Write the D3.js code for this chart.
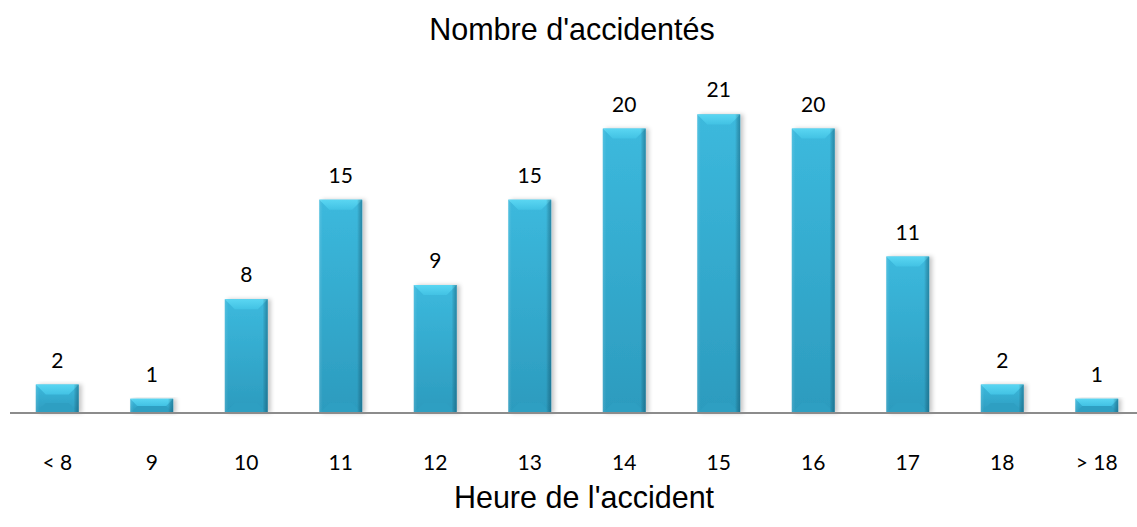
<!DOCTYPE html>
<html lang="fr">
<head>
    <meta charset="UTF-8">
    <title>Nombre d'accidentés</title>
    <script src="https://d3js.org/d3.v7.min.js" charset="utf-8"></script>
    <style>
        body {
            margin: 0;
            background: white;
        }
        .title {
            font-family: "Liberation Sans", Arial, sans-serif;
            font-size: 30.5px;
            fill: #000;
        }
        .lbl {
            font-family: Lato, "Open Sans", sans-serif;
            font-size: 21px;
            fill: #000;
        }
    </style>
</head>
<body>
    <script>
        // chart data
        var heures = ["< 8", "9", "10", "11", "12", "13", "14", "15", "16", "17", "18", "> 18"];
        var accidentes = [2, 1, 8, 15, 9, 15, 20, 21, 20, 11, 2, 1];

        var width = 1137;
        var height = 527;
        var baseY = 413;

        var svg = d3.select("body")
                    .append("svg")
                    .attr("width", width)
                    .attr("height", height);

        var x = d3.scaleBand()
                .domain(heures)
                .range([10, 1144])
                .paddingInner(0.545)
                .paddingOuter(0.2725);

        var y = d3.scaleLinear()
                .domain([0, 25])
                .range([baseY, baseY - 25 * 14.22]);

        // gradients for the bevelled bars
        var defs = svg.append("defs");
        var bodyGrad = defs.append("linearGradient").attr("id", "barBody")
                .attr("x1", 0).attr("x2", 0).attr("y1", 0).attr("y2", 1);
        bodyGrad.append("stop").attr("offset", "0%").attr("stop-color", "#3cb9dd");
        bodyGrad.append("stop").attr("offset", "100%").attr("stop-color", "#2c9bbe");

        var sideGrad = defs.append("linearGradient").attr("id", "barSide")
                .attr("x1", 0).attr("x2", 1).attr("y1", 0).attr("y2", 0);
        sideGrad.append("stop").attr("offset", "0%").attr("stop-color", "#fff").attr("stop-opacity", 0.12);
        sideGrad.append("stop").attr("offset", "8%").attr("stop-color", "#fff").attr("stop-opacity", 0);
        sideGrad.append("stop").attr("offset", "88%").attr("stop-color", "#000").attr("stop-opacity", 0);
        sideGrad.append("stop").attr("offset", "100%").attr("stop-color", "#00324a").attr("stop-opacity", 0.35);

        var topGrad = defs.append("linearGradient").attr("id", "barTop")
                .attr("x1", 0).attr("x2", 0).attr("y1", 0).attr("y2", 1);
        topGrad.append("stop").attr("offset", "0%").attr("stop-color", "#5ad6f2");
        topGrad.append("stop").attr("offset", "100%").attr("stop-color", "#42c2e4");

        var shadow = defs.append("filter").attr("id", "shadow")
                .attr("x", "-20%").attr("y", "-10%").attr("width", "150%").attr("height", "130%");
        shadow.append("feDropShadow").attr("dx", 3).attr("dy", 0).attr("stdDeviation", 2)
                .attr("flood-color", "#000").attr("flood-opacity", 0.22);

        var bev = 10;
        var bars = svg.append("g").selectAll("g")
                .data(accidentes)
                .enter()
                .append("g")
                .attr("transform", function (d, i) { return "translate(" + x(heures[i]) + ",0)"; });

        bars.append("rect")
            .attr("x", 0)
            .attr("y", function (d) { return y(d); })
            .attr("width", x.bandwidth())
            .attr("height", function (d) { return baseY - y(d); })
            .attr("fill", "url(#barBody)")
            .attr("filter", "url(#shadow)");

        // bottom bevel
        bars.append("path")
            .attr("fill", "#2e9fc2")
            .attr("d", function (d) {
                var w = x.bandwidth(), t = y(d);
                var b = Math.min(bev, (baseY - t) / 2);
                return "M0," + baseY + "L" + w + "," + baseY + "L" + (w - b) + "," + (baseY - b) + "L" + b + "," + (baseY - b) + "Z";
            });

        // top bevel
        bars.append("path")
            .attr("fill", "url(#barTop)")
            .attr("d", function (d) {
                var w = x.bandwidth(), t = y(d);
                var b = Math.min(bev, (baseY - t) / 2);
                return "M0," + t + "L" + w + "," + t + "L" + (w - b) + "," + (t + b) + "L" + b + "," + (t + b) + "Z";
            });

        bars.append("rect")
            .attr("x", 0)
            .attr("y", function (d) { return y(d); })
            .attr("width", x.bandwidth())
            .attr("height", function (d) { return baseY - y(d); })
            .attr("fill", "url(#barSide)");

        // value labels
        svg.append("g").selectAll("text")
            .data(accidentes)
            .enter()
            .append("text")
            .attr("class", "lbl")
            .attr("text-anchor", "middle")
            .attr("x", function (d, i) { return x(heures[i]) + x.bandwidth() / 2; })
            .attr("y", function (d) { return y(d) - 17; })
            .text(function (d) { return d; });

        // baseline
        svg.append("line")
            .attr("x1", 10).attr("x2", width)
            .attr("y1", baseY).attr("y2", baseY)
            .attr("stroke", "#8c8c8c")
            .attr("stroke-width", 2);

        // category labels
        var xAxis = d3.axisBottom(x).tickSize(0).tickPadding(0);
        var gx = svg.append("g")
            .attr("transform", "translate(0," + (baseY + 57) + ")")
            .call(xAxis);
        gx.select(".domain").remove();
        gx.selectAll("text")
            .attr("class", "lbl")
            .attr("dy", 0);
        gx.attr("font-family", null).attr("font-size", null);

        svg.append("text")
            .attr("class", "title")
            .attr("text-anchor", "middle")
            .attr("x", 572)
            .attr("y", 40)
            .text("Nombre d'accidentés");

        svg.append("text")
            .attr("class", "title")
            .attr("text-anchor", "middle")
            .attr("x", 584)
            .attr("y", 508)
            .text("Heure de l'accident");
    </script>
</body>
</html>
